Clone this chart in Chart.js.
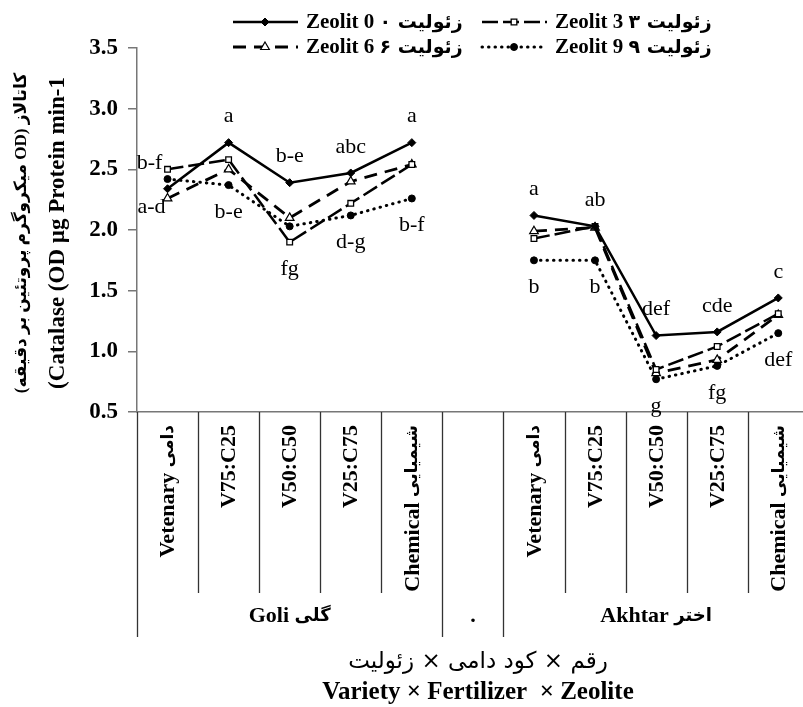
<!DOCTYPE html>
<html>
<head>
<meta charset="utf-8">
<script src="https://cdn.jsdelivr.net/npm/chart.js@4.4.0/dist/chart.umd.min.js"></script>
<style>
  html, body { margin: 0; padding: 0; background: #fff; overflow: hidden; }
  canvas { display: block; }
</style>
</head>
<body>
<canvas id="catalaseChart" width="815" height="707"></canvas>
<script>
// categories: 5 fertilizer levels x 2 varieties, with an empty column between
const categories = ['Vetenary دامی', 'V75:C25', 'V50:C50', 'V25:C75', 'Chemical شیمیایی', '',
                    'Vetenary دامی', 'V75:C25', 'V50:C50', 'V25:C75', 'Chemical شیمیایی'];
const groupNames = ['Goli گلی', '.', 'Akhtar اختر'];
const groupSizes = [5, 1, 5];

const seriesNames = ['Zeolit 0 زئولیت ۰', 'Zeolit 3 زئولیت ۳', 'Zeolit 6 زئولیت ۶', 'Zeolit 9 زئولیت ۹'];
const zeolit0 = [2.34, 2.72, 2.39, 2.47, 2.72, null, 2.12, 2.03, 1.13, 1.16, 1.44];
const zeolit3 = [2.50, 2.58, 1.90, 2.22, 2.54, null, 1.93, 2.03, 0.85, 1.04, 1.31];
const zeolit6 = [2.26, 2.50, 2.10, 2.40, 2.54, null, 1.99, 2.02, 0.82, 0.93, 1.30];
const zeolit9 = [2.42, 2.37, 2.03, 2.12, 2.26, null, 1.75, 1.75, 0.77, 0.88, 1.15];

// mean comparison letters (above the highest / below the lowest point)
const lettersTop    = ['b-f', 'a', 'b-e', 'abc', 'a', '', 'a', 'ab', 'def', 'cde', 'c'];
const lettersBottom = ['a-d', 'b-e', 'fg', 'd-g', 'b-f', '', 'b', 'b', 'g', 'fg', 'def'];

const yTitleFa = 'کاتالاز (OD میکروگرم پروتئین بر دقیقه)';
const yTitleEn = '(Catalase (OD µg Protein min-1';
const xTitleFa = 'رقم × کود دامی × زئولیت';
const xTitleEn = 'Variety × Fertilizer  × Zeolite';

const SERIF = "'Liberation Serif', 'Times New Roman', 'DejaVu Sans', serif";
const FA = "'DejaVu Sans', sans-serif";

const ctx = document.getElementById('catalaseChart').getContext('2d');

// latin part + persian part, each in its own font
function drawMixed(c, text, x, y, align, latinFont, faFont) {
    const m = text.match(/^([^\u0600-\u06FF]*?)\s*([\u0600-\u06FF].*)$/);
    if (!m) {
        c.font = latinFont; c.textAlign = align; c.direction = 'ltr';
        c.fillText(text, x, y);
        return;
    }
    const lat = m[1], fa = m[2];
    c.font = latinFont;
    const wl = lat ? c.measureText(lat + ' ').width : 0;
    c.font = faFont;
    const wf = c.measureText(fa).width;
    const total = wl + wf;
    const left = align === 'center' ? x - total / 2 : align === 'right' ? x - total : x;
    c.font = latinFont; c.direction = 'ltr'; c.textAlign = 'left';
    c.fillText(lat, left, y);
    c.font = faFont; c.direction = 'rtl'; c.textAlign = 'right';
    c.fillText(fa, left + total, y);
    c.direction = 'ltr';
}

// legend, letters, table under the x axis and the axis titles
const extras = {
    id: 'extras',
    afterDatasetsDraw(chart) {
        const c = chart.ctx;
        const x = chart.scales.x;
        const y = chart.scales.y;

        // letters
        c.save();
        c.font = '22px ' + SERIF;
        c.fillStyle = '#000';
        c.textAlign = 'center';
        c.textBaseline = 'middle';
        categories.forEach((cat, i) => {
            const vals = chart.data.datasets.map(d => d.data[i]).filter(v => v != null);
            if (!vals.length) return;
            const px = x.getPixelForValue(i);
            const top = y.getPixelForValue(Math.max(...vals));
            const bot = y.getPixelForValue(Math.min(...vals));
            if (i === 0) {
                c.fillText(lettersTop[i], px - 18, top - 6);
                c.fillText(lettersBottom[i], px - 16, bot + 9);
            } else {
                c.fillText(lettersTop[i], px, top - 26);
                c.fillText(lettersBottom[i], px, bot + 27);
            }
        });
        c.restore();
    },
    afterDraw(chart) {
        const c = chart.ctx;
        const x = chart.scales.x;
        const area = chart.chartArea;
        const axisY = area.bottom;
        const step = x.getPixelForValue(1) - x.getPixelForValue(0);

        // table lines
        c.save();
        c.strokeStyle = '#333';
        c.lineWidth = 1.3;
        const groupEdges = [0];
        groupSizes.reduce((acc, n) => { groupEdges.push(acc + n); return acc + n; }, 0);
        for (let i = 0; i <= categories.length; i++) {
            const bx = Math.round(x.getPixelForValue(i) - step / 2) + 0.5;
            const full = groupEdges.includes(i);
            c.beginPath();
            c.moveTo(bx, axisY);
            c.lineTo(bx, full ? 637 : 593);
            c.stroke();
        }

        // category labels (rotated)
        c.fillStyle = '#000';
        c.textBaseline = 'middle';
        categories.forEach((cat, i) => {
            if (!cat) return;
            c.save();
            c.translate(x.getPixelForValue(i) + 1, axisY + 13);
            c.rotate(-Math.PI / 2);
            drawMixed(c, cat, 0, 0, 'right', 'bold 22px ' + SERIF, 'bold 17px ' + FA);
            c.restore();
        });

        // group labels
        let start = 0;
        groupNames.forEach((g, k) => {
            const end = start + groupSizes[k] - 1;
            const gx = (x.getPixelForValue(start) + x.getPixelForValue(end)) / 2;
            drawMixed(c, g, gx, 616, 'center', 'bold 22px ' + SERIF, 'bold 18px ' + FA);
            start += groupSizes[k];
        });

        // x title
        const cx = 478;
        c.textAlign = 'center';
        c.direction = 'rtl';
        c.font = '23px ' + FA;
        c.fillText(xTitleFa, cx, 662);
        c.direction = 'ltr';
        c.font = 'bold 25px ' + SERIF;
        c.fillText(xTitleEn, cx, 693);

        // y titles
        const cy = (area.top + area.bottom) / 2 + 3;
        c.save();
        c.translate(22, cy);
        c.rotate(-Math.PI / 2);
        c.direction = 'rtl';
        c.font = "bold 17px 'Liberation Serif', 'DejaVu Sans', serif";
        c.fillText(yTitleFa, 0, 0);
        c.restore();
        c.save();
        c.translate(58, cy);
        c.rotate(-Math.PI / 2);
        c.direction = 'ltr';
        c.font = 'bold 23px ' + SERIF;
        c.fillText(yTitleEn, 0, 0);
        c.restore();

        // legend
        const slots = [[233, 22], [482, 22], [233, 47], [482, 47]];
        chart.data.datasets.forEach((ds, k) => {
            const [lx, ly] = slots[k];
            c.save();
            c.strokeStyle = ds.borderColor;
            c.lineWidth = ds.borderWidth;
            c.lineCap = ds.borderCapStyle || 'butt';
            c.setLineDash(ds.borderDash || []);
            c.beginPath();
            c.moveTo(lx, ly);
            c.lineTo(lx + 65, ly);
            c.stroke();
            c.restore();
            c.save();
            c.fillStyle = ds.pointBackgroundColor;
            c.strokeStyle = ds.borderColor;
            c.lineWidth = ds.pointBorderWidth;
            Chart.helpers.drawPoint(c, {
                pointStyle: ds.pointStyle,
                radius: ds.pointRadius,
                rotation: 0,
                borderWidth: ds.pointBorderWidth
            }, lx + 32, ly);
            c.restore();
            c.fillStyle = '#000';
            c.textBaseline = 'middle';
            drawMixed(c, seriesNames[k], lx + 73, ly + 1, 'left', 'bold 21px ' + SERIF, 'bold 19px ' + FA);
        });
        c.restore();
    }
};

const common = { borderColor: '#000', fill: false, tension: 0, spanGaps: false, pointBorderColor: '#000' };

const tempChart = new Chart(ctx, {
    type: 'line',
    data: {
        labels: categories,
        datasets: [
            { ...common, label: seriesNames[0], data: zeolit0, borderWidth: 2.5, borderDash: [],
              pointStyle: 'rectRot', pointRadius: 4, pointBackgroundColor: '#000', pointBorderWidth: 1 },
            { ...common, label: seriesNames[1], data: zeolit3, borderWidth: 2.5, borderDash: [16, 5],
              pointStyle: 'rect', pointRadius: 4, pointBackgroundColor: '#fff', pointBorderWidth: 1.3 },
            { ...common, label: seriesNames[2], data: zeolit6, borderWidth: 2.8, borderDash: [13, 8],
              pointStyle: 'triangle', pointRadius: 5, pointBackgroundColor: '#fff', pointBorderWidth: 1.2 },
            { ...common, label: seriesNames[3], data: zeolit9, borderWidth: 3, borderDash: [0.5, 6], borderCapStyle: 'round',
              pointStyle: 'circle', pointRadius: 3.5, pointBackgroundColor: '#000', pointBorderWidth: 1 }
        ]
    },
    options: {
        responsive: false,
        animation: false,
        layout: { padding: { top: 48, right: 0, left: 0, bottom: 0 } },
        plugins: { legend: { display: false }, tooltip: { enabled: false } },
        scales: {
            x: {
                offset: true,
                grid: { display: false },
                border: { color: '#777', width: 1.5 },
                ticks: { display: false },
                afterFit: s => { s.height = 295; }
            },
            y: {
                min: 0.5,
                max: 3.5,
                grid: { drawOnChartArea: false, tickLength: 9, color: '#777', lineWidth: 1.5 },
                border: { color: '#777', width: 1.5 },
                ticks: {
                    stepSize: 0.5,
                    padding: 10,
                    color: '#000',
                    font: { family: SERIF, size: 23, weight: 'bold' },
                    callback: v => v.toFixed(1)
                },
                afterFit: s => { s.width = 137; }
            }
        }
    },
    plugins: [extras]
});
</script>
</body>
</html>
